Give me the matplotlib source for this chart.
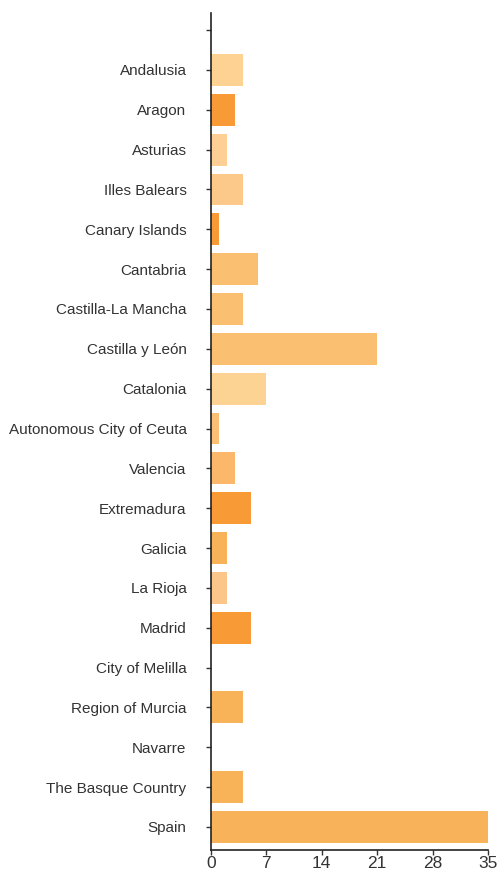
import matplotlib
matplotlib.use("Agg")
import matplotlib.pyplot as plt

regions = ["", "Andalusia", "Aragon", "Asturias", "Illes Balears", "Canary Islands",
           "Cantabria", "Castilla-La Mancha", "Castilla y León", "Catalonia",
           "Autonomous City of Ceuta", "Valencia", "Extremadura", "Galicia",
           "La Rioja", "Madrid", "City of Melilla", "Region of Murcia", "Navarre",
           "The Basque Country", "Spain"]
values = [0, 4, 3, 2, 4, 1, 6, 4, 21, 7, 1, 3, 5, 2, 2, 5, 0, 4, 0, 4, 35]
colors = ["#ffffff", "#fdd293", "#f89a35", "#fdcf94", "#fcc98a", "#f89a35",
          "#fbbf72", "#fbbf72", "#fbbf72", "#fdd394", "#fcc074", "#fbb86a",
          "#f89a35", "#f8b258", "#fcc68a", "#f89a35", "#fbbf72", "#f8b258",
          "#fbbf72", "#f8b258", "#f8b25a"]
xticks = [0, 7, 14, 21, 28, 35]

plt.rcParams["font.family"] = ["Liberation Sans", "DejaVu Sans"]

fig = plt.figure(figsize=(4.97, 8.72), dpi=100)
# axis line runs from y=13 to y=850 px, x from 211 to 488 px
ax = fig.add_axes([211 / 497, 22 / 872, 277 / 497, 837 / 872])

pos = list(range(len(regions)))
ax.barh(pos, values, height=0.8, color=colors)
ax.set_yticks(pos)
ax.set_yticklabels(regions, fontsize=11, color="#333333")
ax.set_ylim(20.58, -0.43)
ax.set_xlim(0, 35)
ax.set_xticks(xticks)
ax.set_xticklabels([str(t) for t in xticks], fontsize=12.5, color="#333333")

for s in ["top", "right"]:
    ax.spines[s].set_visible(False)
for s in ["left", "bottom"]:
    ax.spines[s].set_color("#222222")
    ax.spines[s].set_linewidth(1.2)
ax.tick_params(axis="both", length=3.6, width=1, color="#333333")
ax.tick_params(axis="y", pad=14)
ax.tick_params(axis="x", pad=1)

fig.savefig("out.png", dpi=100)
